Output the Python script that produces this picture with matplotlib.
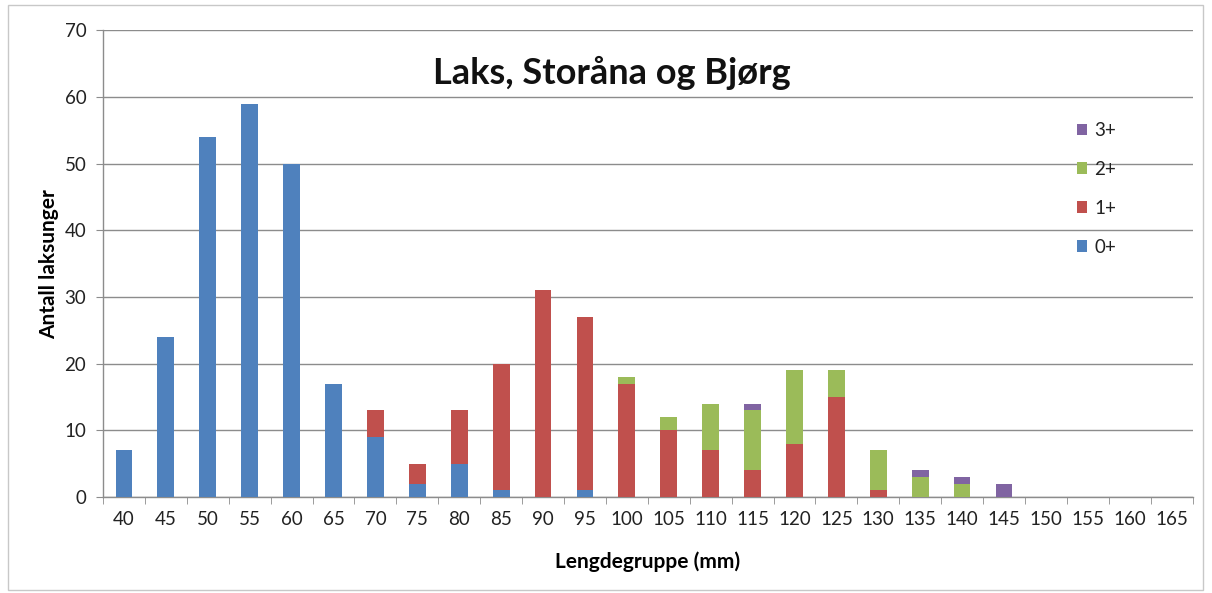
import matplotlib
matplotlib.use("Agg")
import matplotlib.pyplot as plt
from matplotlib.patches import Rectangle, Patch
import numpy as np

plt.rcParams['font.family'] = ['Lato', 'DejaVu Sans']

lengths = [40, 45, 50, 55, 60, 65, 70, 75, 80, 85, 90, 95, 100, 105, 110,
           115, 120, 125, 130, 135, 140, 145, 150, 155, 160, 165]
age0 = [7, 24, 54, 59, 50, 17, 9, 2, 5, 1, 0, 1, 0, 0, 0,
        0, 0, 0, 0, 0, 0, 0, 0, 0, 0, 0]
age1 = [0, 0, 0, 0, 0, 0, 4, 3, 8, 19, 31, 26, 17, 10, 7,
        4, 8, 15, 1, 0, 0, 0, 0, 0, 0, 0]
age2 = [0, 0, 0, 0, 0, 0, 0, 0, 0, 0, 0, 0, 1, 2, 7,
        9, 11, 4, 6, 3, 2, 0, 0, 0, 0, 0]
age3 = [0, 0, 0, 0, 0, 0, 0, 0, 0, 0, 0, 0, 0, 0, 0,
        1, 0, 0, 0, 1, 1, 2, 0, 0, 0, 0]
series_labels = ['0+', '1+', '2+', '3+']
series_colors = ['#4F81BD', '#C0504D', '#9BBB59', '#8064A2']

fig = plt.figure(figsize=(12.12, 5.93), dpi=100)
ax = fig.add_axes([0.085, 0.162, 0.899, 0.787])

x = np.arange(len(lengths))
bottom = np.zeros(len(lengths))
handles = []
for vals, lab, col in zip([age0, age1, age2, age3], series_labels, series_colors):
    v = np.array(vals, dtype=float)
    ax.bar(x, v, width=0.4, bottom=bottom, color=col, zorder=3)
    bottom += v
    handles.append(Patch(facecolor=col, label=lab))

ax.set_xlim(-0.5, len(lengths) - 0.5)
ax.set_ylim(0, 70)
ax.set_yticks(range(0, 71, 10))
ax.yaxis.grid(True, color='#8c8c8c', linewidth=1.0, zorder=0)
ax.set_axisbelow(True)

ax.set_xticks(x)
ax.set_xticklabels([str(v) for v in lengths], fontsize=13.5, color='#222222')
ax.set_xticks(np.arange(-0.5, len(lengths), 1.0), minor=True)
ax.tick_params(axis='x', which='major', length=0, pad=10)
ax.tick_params(axis='x', which='minor', length=5, color='#8c8c8c', direction='out')
ax.tick_params(axis='y', length=5, color='#8c8c8c', labelsize=13.5,
               labelcolor='#222222', pad=7)

for side in ['top', 'right']:
    ax.spines[side].set_visible(False)
for side in ['left', 'bottom']:
    ax.spines[side].set_color('#8c8c8c')
    ax.spines[side].set_linewidth(1.0)

ax.set_xlabel('Lengdegruppe (mm)', fontsize=15, fontweight='bold', labelpad=17)
ax.set_ylabel('Antall laksunger', fontsize=15, fontweight='bold', labelpad=4)

ax.text(0.467, 0.908, 'Laks, Storåna og Bjørg', transform=ax.transAxes,
        ha='center', va='center', fontsize=26, fontweight='bold', color='#111111')

leg = ax.legend(handles=handles[::-1], loc='upper left',
                bbox_to_anchor=(0.878, 0.84), frameon=False,
                handlelength=0.55, handleheight=0.55, handletextpad=0.4,
                labelspacing=1.17, fontsize=13.5, borderpad=0.4)
for t in leg.get_texts():
    t.set_color('#222222')

fig.patches.append(Rectangle((8 / 1212, 1 - 590 / 593), 1195 / 1212, 585 / 593,
                             transform=fig.transFigure, fill=False,
                             edgecolor='#c8c8c8', linewidth=1.0))

fig.savefig('out.png', dpi=100, facecolor='white')
